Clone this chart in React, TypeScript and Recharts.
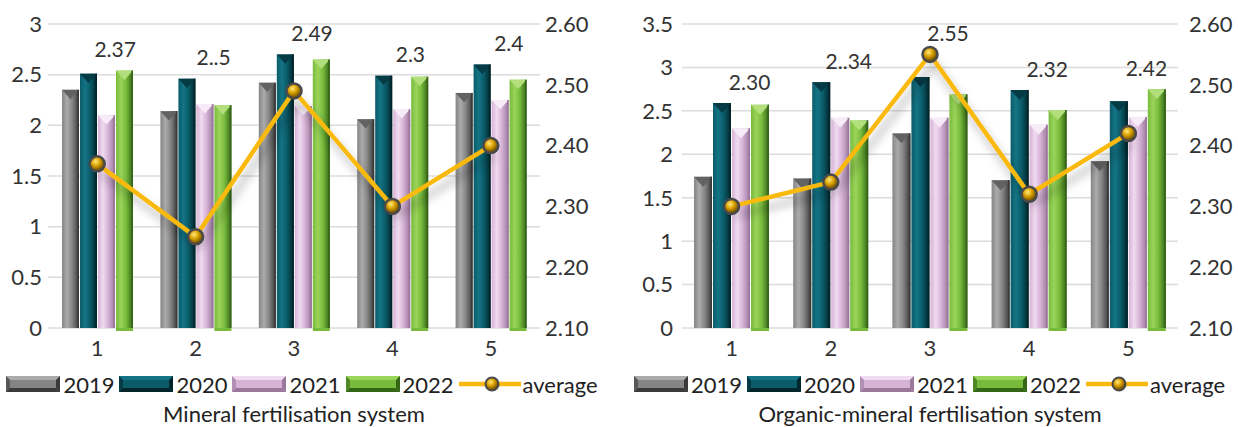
import React from "react";
import {
  ComposedChart,
  Bar,
  Line,
  XAxis,
  YAxis,
  CartesianGrid,
  Legend,
  LabelList,
} from "recharts";

// x categories
const CATEGORIES = ["1", "2", "3", "4", "5"];
const YEARS = ["2019", "2020", "2021", "2022"];

// Mineral fertilisation system
const MIN_2019 = [2.35, 2.14, 2.42, 2.06, 2.32];
const MIN_2020 = [2.51, 2.46, 2.7, 2.49, 2.6];
const MIN_2021 = [2.1, 2.21, 2.19, 2.16, 2.25];
const MIN_2022 = [2.54, 2.2, 2.65, 2.48, 2.45];
const MIN_AVG = [2.37, 2.25, 2.49, 2.3, 2.4];
const MIN_AVG_LABELS = ["2.37", "2..5", "2.49", "2.3", "2.4"];

// Organic-mineral fertilisation system
const ORG_2019 = [1.74, 1.72, 2.24, 1.7, 1.92];
const ORG_2020 = [2.59, 2.83, 2.89, 2.74, 2.61];
const ORG_2021 = [2.3, 2.42, 2.42, 2.34, 2.43];
const ORG_2022 = [2.57, 2.39, 2.69, 2.51, 2.75];
const ORG_AVG = [2.3, 2.34, 2.55, 2.32, 2.42];
const ORG_AVG_LABELS = ["2.30", "2..34", "2.55", "2.32", "2.42"];

const MIN_LEFT_TICKS = [0, 0.5, 1, 1.5, 2, 2.5, 3];
const ORG_LEFT_TICKS = [0, 0.5, 1, 1.5, 2, 2.5, 3, 3.5];
const RIGHT_TICKS = [2.1, 2.2, 2.3, 2.4, 2.5, 2.6];

const FONT = "Lato, 'Open Sans', sans-serif";
const TEXT = "#333333";
const LINE = "#F9B90F";

const SERIES = [
  { key: "y2019", dark: "#3a3a3a", mid: "#858585", light: "#ababab", cap: "#626262" },
  { key: "y2020", dark: "#02252b", mid: "#0a5c69", light: "#147486", cap: "#053b45" },
  { key: "y2021", dark: "#9a789c", mid: "#d6b2d7", light: "#f0dbf0", cap: "#f7ebf7" },
  { key: "y2022", dark: "#356618", mid: "#78bb3c", light: "#9bd45a", cap: "#b2df7c" },
];

const BevelBar = (props: any) => {
  const { x, y, width, height, pid, si } = props;
  if (height == null || height <= 0) return null;
  const s = SERIES[si];
  const cap = Math.min(width * 0.55, height);
  return (
    <g>
      <rect x={x} y={y} width={width} height={height} fill={`url(#${pid}-g${si})`} />
      <polygon
        points={`${x},${y} ${x + width},${y} ${x + width / 2},${y + cap}`}
        fill={s.cap}
      />
      <line x1={x + width - 0.8} y1={y} x2={x + width - 0.8} y2={y + height} stroke={s.dark} strokeWidth={1.6} />
      {si === 3 && <rect x={x} y={y + height} width={width} height={3} fill={s.mid} />}
    </g>
  );
};

const AvgDot = (props: any) => {
  const { cx, cy, index, pid } = props;
  if (cx == null || cy == null) return <g key={`d-${index}`} />;
  return (
    <circle
      key={`d-${index}`}
      cx={cx}
      cy={cy}
      r={7.5}
      fill={`url(#${pid}-dot)`}
      stroke="#4a4a4a"
      strokeWidth={2.5}
    />
  );
};

const Swatch = ({ si }: { si: number }) => {
  const s = SERIES[si];
  return (
    <svg width={54} height={16} style={{ display: "block", flexShrink: 0 }}>
      <rect x={0} y={0} width={54} height={16} fill={s.mid} />
      <polygon points="0,0 54,0 50,4 4,4" fill={s.light} />
      <polygon points="0,16 54,16 50,12 4,12" fill={s.dark} />
      <polygon points="0,0 4,4 4,12 0,16" fill={s.dark} opacity={0.6} />
      <polygon points="54,0 50,4 50,12 54,16" fill={s.dark} />
    </svg>
  );
};

interface PanelProps {
  pid: string;
  title: string;
  bars: number[][];
  avg: number[];
  labels: string[];
  leftTicks: number[];
  width: number;
  leftW: number;
  rightW: number;
  leftGap: number;
  rightGap: number;
  barSize: number;
}

const Panel: React.FC<PanelProps> = ({
  pid,
  title,
  bars,
  avg,
  labels,
  leftTicks,
  width,
  leftW,
  rightW,
  leftGap,
  rightGap,
  barSize,
}) => {
  const leftMax = leftTicks[leftTicks.length - 1];
  const rMin = RIGHT_TICKS[0];
  const rMax = RIGHT_TICKS[RIGHT_TICKS.length - 1];

  const data = CATEGORIES.map((c, i) => ({
    cat: c,
    y2019: bars[0][i],
    y2020: bars[1][i],
    y2021: bars[2][i],
    y2022: bars[3][i],
    avg: avg[i],
    label: labels[i],
    anchor: Math.max(
      bars[0][i],
      bars[1][i],
      bars[2][i],
      bars[3][i],
      ((avg[i] - rMin) / (rMax - rMin)) * leftMax
    ),
  }));

  const renderAvgLabel = (p: any) => {
    const { x, y, value } = p;
    return (
      <text
        x={x + 18}
        y={y - 22}
        textAnchor="middle"
        dominantBaseline="central"
        fontSize={21}
        fontFamily={FONT}
        fill={TEXT}
      >
        {value}
      </text>
    );
  };

  const renderLegend = () => (
    <div style={{ fontFamily: FONT, color: "#222", fontSize: 22, whiteSpace: "nowrap" }}>
      <div
        style={{
          display: "flex",
          alignItems: "center",
          justifyContent: "center",
          height: 32,
          position: "relative",
          left: (leftW - rightW) / 4,
        }}
      >
        {YEARS.map((yr, i) => (
          <div key={yr} style={{ display: "flex", alignItems: "center", marginRight: 5, flexShrink: 0 }}>
            <Swatch si={i} />
            <span style={{ marginLeft: 3 }}>{yr}</span>
          </div>
        ))}
        <svg width={62} height={18} style={{ display: "block", flexShrink: 0 }}>
          <line x1={0} y1={9} x2={62} y2={9} stroke={LINE} strokeWidth={4.5} />
          <circle cx={33} cy={9} r={6.5} fill={`url(#${pid}-dot)`} stroke="#4a4a4a" strokeWidth={2} />
        </svg>
        <span style={{ marginLeft: 2, flexShrink: 0 }}>average</span>
      </div>
      <div
        style={{
          textAlign: "center",
          paddingLeft: leftW,
          paddingRight: rightW,
          fontSize: 22,
          lineHeight: "28px",
          color: "#222",
        }}
      >
        {title}
      </div>
    </div>
  );

  return (
    <ComposedChart
      width={width}
      height={427}
      data={data}
      margin={{ top: 24, right: 0, bottom: 0, left: 0 }}
      barSize={barSize}
      barGap={1}
    >
      <defs>
        {SERIES.map((s, i) => (
          <linearGradient key={s.key} id={`${pid}-g${i}`} x1="0" y1="0" x2="1" y2="0">
            <stop offset="0%" stopColor={s.mid} />
            <stop offset="30%" stopColor={s.light} />
            <stop offset="60%" stopColor={s.mid} />
            <stop offset="100%" stopColor={s.dark} />
          </linearGradient>
        ))}
        <radialGradient id={`${pid}-dot`} cx="40%" cy="35%" r="65%">
          <stop offset="0%" stopColor="#ffe97a" />
          <stop offset="45%" stopColor="#d9a000" />
          <stop offset="100%" stopColor="#5a3f00" />
        </radialGradient>
        <filter id={`${pid}-shadow`} x="-10%" y="-30%" width="120%" height="180%">
          <feDropShadow dx="4" dy="9" stdDeviation="5" floodColor="#000" floodOpacity="0.3" />
        </filter>
      </defs>
      <CartesianGrid yAxisId="left" vertical={false} stroke="#dcdcdc" strokeWidth={1.5} />
      <XAxis
        dataKey="cat"
        axisLine={false}
        tickLine={false}
        tickSize={0}
        tickMargin={12}
        height={40}
        tick={{ fontSize: 22, fontFamily: FONT, fill: TEXT }}
      />
      <YAxis
        yAxisId="left"
        width={leftW}
        domain={[0, leftMax]}
        ticks={leftTicks}
        interval={0}
        axisLine={false}
        tickLine={false}
        tickSize={0}
        tickMargin={leftGap}
        tick={{ fontSize: 22, fontFamily: FONT, fill: TEXT }}
      />
      <YAxis
        yAxisId="right"
        orientation="right"
        width={rightW}
        domain={[rMin, rMax]}
        ticks={RIGHT_TICKS}
        interval={0}
        axisLine={false}
        tickLine={false}
        tickSize={0}
        tickMargin={rightGap}
        tickFormatter={(v: number) => v.toFixed(2)}
        tick={{ fontSize: 22, fontFamily: FONT, fill: TEXT }}
      />
      {SERIES.map((s, i) => (
        <Bar
          key={s.key}
          yAxisId="left"
          dataKey={s.key}
          name={YEARS[i]}
          fill={s.mid}
          isAnimationActive={false}
          shape={(p: any) => <BevelBar {...p} pid={pid} si={i} />}
        />
      ))}
      <Line
        yAxisId="right"
        dataKey="avg"
        name="average"
        stroke={LINE}
        strokeWidth={4.5}
        filter={`url(#${pid}-shadow)`}
        dot={(p: any) => <AvgDot {...p} pid={pid} />}
        activeDot={false}
        isAnimationActive={false}
      />
      <Line
        yAxisId="left"
        dataKey="anchor"
        stroke="none"
        dot={false}
        activeDot={false}
        legendType="none"
        isAnimationActive={false}
      >
        <LabelList dataKey="label" content={renderAvgLabel} />
      </Line>
      <Legend verticalAlign="bottom" height={59} content={renderLegend} />
    </ComposedChart>
  );
};

export default function App() {
  return (
    <div style={{ display: "flex", width: 1238, height: 427, background: "#fff" }}>
      <style>{"body{margin:0}"}</style>
      <Panel
        pid="min"
        title="Mineral fertilisation system"
        bars={[MIN_2019, MIN_2020, MIN_2021, MIN_2022]}
        avg={MIN_AVG}
        labels={MIN_AVG_LABELS}
        leftTicks={MIN_LEFT_TICKS}
        width={620}
        leftW={48}
        rightW={80}
        leftGap={6}
        rightGap={5}
        barSize={17}
      />
      <Panel
        pid="org"
        title="Organic-mineral fertilisation system"
        bars={[ORG_2019, ORG_2020, ORG_2021, ORG_2022]}
        avg={ORG_AVG}
        labels={ORG_AVG_LABELS}
        leftTicks={ORG_LEFT_TICKS}
        width={618}
        leftW={62}
        rightW={60}
        leftGap={9}
        rightGap={11}
        barSize={18}
      />
    </div>
  );
}
